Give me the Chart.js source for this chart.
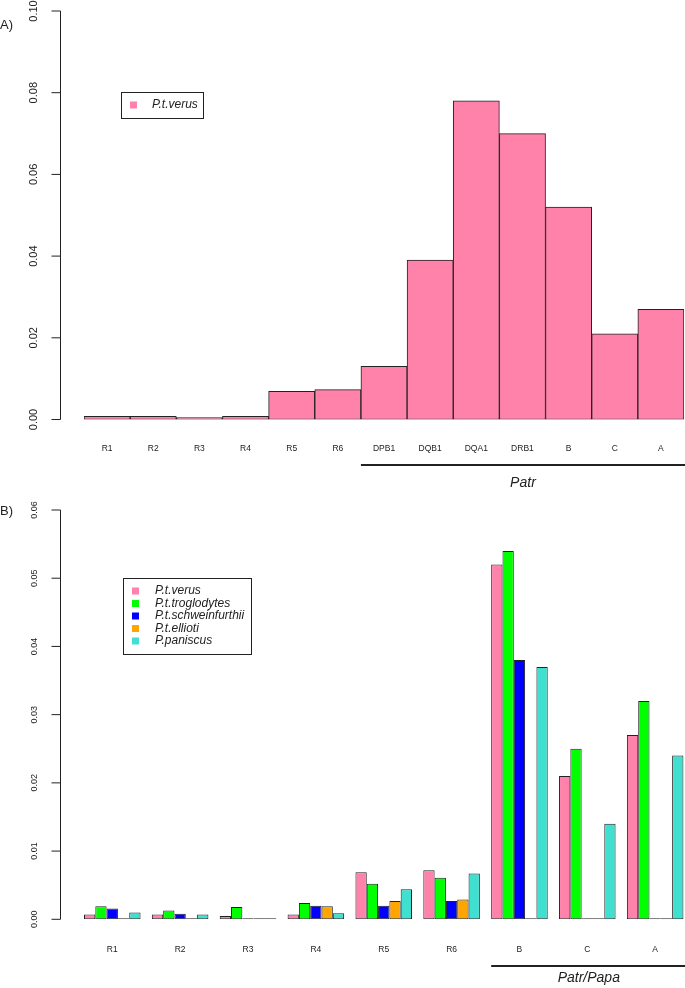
<!DOCTYPE html>
<html>
<head>
<meta charset="utf-8">
<script src="https://cdn.jsdelivr.net/npm/chart.js@4/dist/chart.umd.min.js"></script>
<style>
  html, body { margin: 0; padding: 0; background: #fff; overflow: hidden; width: 685px; height: 988px; }
  canvas { position: absolute; left: 0; display: block; }
  #chartA { top: 0; }
  #chartB { top: 494px; }
</style>
</head>
<body>
<canvas id="chartA" width="685" height="494"></canvas>
<canvas id="chartB" width="700" height="494"></canvas>
<script>
/* ---------- panel A : P.t.verus only ---------- */
const lociA       = ['R1', 'R2', 'R3', 'R4', 'R5', 'R6', 'DPB1', 'DQB1', 'DQA1', 'DRB1', 'B', 'C', 'A'];
const verusA      = [0.0008, 0.0008, 0.0005, 0.0008, 0.0069, 0.0073, 0.013, 0.039, 0.078, 0.070, 0.052, 0.021, 0.027];
const ticksA      = [0, 0.02, 0.04, 0.06, 0.08, 0.10];
const tickLabelsA = ['0.00', '0.02', '0.04', '0.06', '0.08', '0.10'];

/* ---------- panel B : five (sub)species ---------- */
const lociB           = ['R1', 'R2', 'R3', 'R4', 'R5', 'R6', 'B', 'C', 'A'];
const speciesB        = ['P.t.verus', 'P.t.troglodytes', 'P.t.schweinfurthii', 'P.t.ellioti', 'P.paniscus'];
const verusB          = [0.0007, 0.0007, 0.0005, 0.0007, 0.0069, 0.0072, 0.052, 0.021, 0.027];
const troglodytesB    = [0.0019, 0.0013, 0.0018, 0.0024, 0.0052, 0.0061, 0.054, 0.025, 0.032];
const schweinfurthiiB = [0.0016, 0.0008, 0, 0.0020, 0.0020, 0.0027, 0.038, 0, 0];
const elliotiB        = [0, 0, 0, 0.0019, 0.0027, 0.0029, 0, 0, 0];
const paniscusB       = [0.0010, 0.0007, 0, 0.0009, 0.0044, 0.0067, 0.037, 0.014, 0.024];
const ticksB          = [0, 0.01, 0.02, 0.03, 0.04, 0.05, 0.06];
const tickLabelsB     = ['0.00', '0.01', '0.02', '0.03', '0.04', '0.05', '0.06'];

const colors = ['#FF82AB', '#00FF00', '#0000FF', '#FFA500', '#40E0D0'];
const FONT   = '"Liberation Sans", Arial, sans-serif';
const INK    = '#222';

/* R-style extras: detached y axis with rotated labels, panel letter,
   bracket under a group of loci, boxed legend */
const rStyle = {
  id: 'rStyle',
  afterDraw(chart, args, o) {
    const ctx = chart.ctx;
    const y   = chart.scales.y;
    ctx.save();
    ctx.strokeStyle = INK;
    ctx.fillStyle   = INK;
    ctx.lineWidth   = 1;

    // y axis
    const ax  = o.axisX + 0.5;
    const top = y.getPixelForValue(o.ticks[o.ticks.length - 1]);
    const bot = y.getPixelForValue(o.ticks[0]);
    ctx.beginPath();
    ctx.moveTo(ax, top);
    ctx.lineTo(ax, bot);
    o.ticks.forEach(v => {
      const py = y.getPixelForValue(v);
      ctx.moveTo(ax, py);
      ctx.lineTo(ax - o.tickLen, py);
    });
    ctx.stroke();

    ctx.font         = o.tickFont;
    ctx.textAlign    = 'center';
    ctx.textBaseline = 'middle';
    o.ticks.forEach((v, i) => {
      ctx.save();
      ctx.translate(o.labelX, y.getPixelForValue(v));
      ctx.rotate(-Math.PI / 2);
      ctx.fillText(o.tickLabels[i], 0, 0);
      ctx.restore();
    });

    // panel letter
    ctx.font      = '13px ' + FONT;
    ctx.textAlign = 'left';
    ctx.fillText(o.panel, 0, o.panelY);

    // bracket under grouped loci
    const metas = chart.data.datasets.map((d, i) => chart.getDatasetMeta(i));
    const first = metas[0].data[o.groupFrom];
    const last  = metas[metas.length - 1].data[o.groupTo];
    const x1 = first.x - first.width / 2;
    const x2 = last.x + last.width / 2 + o.bracketExtra;
    ctx.lineWidth = 2;
    ctx.beginPath();
    ctx.moveTo(x1, o.bracketY);
    ctx.lineTo(x2, o.bracketY);
    ctx.stroke();
    ctx.font      = 'italic 14px ' + FONT;
    ctx.textAlign = 'center';
    ctx.fillText(o.groupLabel, (x1 + x2) / 2, o.groupLabelY);

    // legend
    const L = o.legend;
    ctx.lineWidth = 1;
    ctx.strokeRect(L.x + 0.5, L.y + 0.5, L.w, L.h);
    ctx.font      = 'italic 12px ' + FONT;
    ctx.textAlign = 'left';
    chart.data.datasets.forEach((d, i) => {
      const cy = L.firstRow + i * L.rowGap;
      ctx.fillStyle = d.backgroundColor;
      ctx.fillRect(L.boxX, cy - 3.5, 7, 7);
      ctx.fillStyle = INK;
      ctx.fillText(d.label, L.textX, cy);
    });
    ctx.restore();
  }
};

// category axis: labels only, no side padding so bars reach the plot edges
const xAxis = (pad, h) => ({
  grid    : { display: false, drawTicks: false },
  border  : { display: false },
  ticks   : { padding: pad, color: INK, autoSkip: false, maxRotation: 0, font: { family: FONT, size: 8.5 } },
  afterFit: s => { s.height = h; s.paddingLeft = 0; s.paddingRight = 0; },
});

/* ---------- chart A ---------- */
new Chart(document.getElementById('chartA'), {
  type: 'bar',
  data: {
    labels: lociA,
    datasets: [{
      label             : 'P.t.verus',
      data              : verusA,
      backgroundColor   : colors[0],
      borderColor       : INK,
      borderWidth       : 1,
      borderSkipped     : false,
      barPercentage     : 1,
      categoryPercentage: 1,
    }],
  },
  options: {
    responsive: false,
    animation : false,
    layout    : { padding: { left: 84, right: 1, top: 11, bottom: 0 } },
    plugins   : {
      legend : { display: false },
      tooltip: { enabled: false },
      rStyle : {
        axisX: 60, tickLen: 9, labelX: 34, tickFont: '11px ' + FONT,
        ticks: ticksA, tickLabels: tickLabelsA,
        panel: 'A)', panelY: 25,
        groupFrom: 6, groupTo: 12, groupLabel: 'Patr', bracketY: 465, groupLabelY: 483, bracketExtra: 1,
        legend: { x: 121, y: 92, w: 82, h: 26, boxX: 130, textX: 152, firstRow: 105, rowGap: 12.5 },
      },
    },
    scales: {
      x: xAxis(24.4, 74.5),
      y: { display: false, min: 0, max: 0.10 },
    },
  },
  plugins: [rStyle],
});

/* ---------- chart B ---------- */
const seriesB = [verusB, troglodytesB, schweinfurthiiB, elliotiB, paniscusB];

new Chart(document.getElementById('chartB'), {
  type: 'bar',
  data: {
    labels: lociB,
    datasets: seriesB.map((vals, i) => ({
      label             : speciesB[i],
      data              : vals,
      backgroundColor   : colors[i],
      borderColor       : INK,
      borderWidth       : 1,
      borderSkipped     : false,
      minBarLength      : 1,
      barPercentage     : 1,
      categoryPercentage: 5 / 6,
    })),
  },
  options: {
    responsive: false,
    animation : false,
    layout    : { padding: { left: 78.35, right: 10.9, top: 16, bottom: 0 } },
    plugins   : {
      legend : { display: false },
      tooltip: { enabled: false },
      rStyle : {
        axisX: 60, tickLen: 9, labelX: 35, tickFont: '9px ' + FONT,
        ticks: ticksB, tickLabels: tickLabelsB,
        panel: 'B)', panelY: 17,
        groupFrom: 6, groupTo: 8, groupLabel: 'Patr/Papa', bracketY: 472, groupLabelY: 484, bracketExtra: 3,
        legend: { x: 123, y: 84, w: 128, h: 76, boxX: 132, textX: 155, firstRow: 97, rowGap: 12.5 },
      },
    },
    scales: {
      x: xAxis(25.6, 68.7),
      y: { display: false, min: 0, max: 0.06 },
    },
  },
  plugins: [rStyle],
});
</script>
</body>
</html>
